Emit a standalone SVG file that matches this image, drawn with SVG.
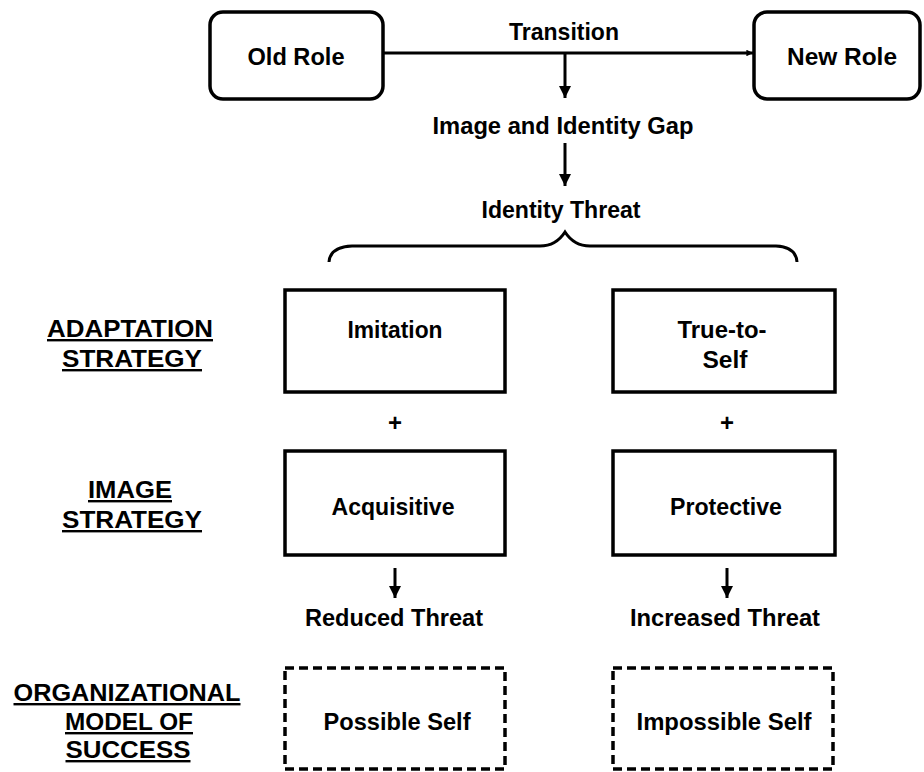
<svg xmlns="http://www.w3.org/2000/svg" width="924" height="772" viewBox="0 0 924 772">
<style>
text{font-family:"Liberation Sans",Arial,sans-serif;font-weight:bold;font-size:24px;fill:#000;text-anchor:middle}
.box{fill:#fff;stroke:#000;stroke-width:3.5}
.dash{fill:#fff;stroke:#000;stroke-width:3.5;stroke-dasharray:9 5}
.ln{fill:none;stroke:#000;stroke-width:3}
.ul{text-decoration:underline}
</style>
<defs>
<marker id="ah" viewBox="0 0 10 10" refX="10" refY="5" markerWidth="4" markerHeight="4" orient="auto" markerUnits="strokeWidth">
<path d="M0,0 L10,5 L0,10 Z" fill="#000"/>
</marker>
<marker id="ahs" viewBox="0 0 10 10" refX="10" refY="5" markerWidth="2.2" markerHeight="2.2" orient="auto" markerUnits="strokeWidth">
<path d="M0,0 L10,5 L0,10 Z" fill="#000"/>
</marker>
</defs>
<rect width="924" height="772" fill="#fff"/>
<g id="connectors">
<line class="ln" x1="383" y1="53" x2="753" y2="53" marker-end="url(#ahs)"/>
<line class="ln" x1="565" y1="53" x2="565" y2="98" marker-end="url(#ah)"/>
<line class="ln" x1="565" y1="143" x2="565" y2="186" marker-end="url(#ah)"/>
<path class="ln" d="M329,262 Q330,247 352,246 L540,246 Q556,246 565,232 Q574,246 590,246 L776,246 Q796,247 797,262"/>
<line class="ln" x1="395" y1="568" x2="395" y2="598" marker-end="url(#ah)"/>
<line class="ln" x1="727" y1="568" x2="727" y2="598" marker-end="url(#ah)"/>
</g>
<g id="old-role"><rect class="box" x="210" y="12" width="173" height="87" rx="13"/><text x="296" y="65" textLength="97" lengthAdjust="spacingAndGlyphs">Old Role</text></g>
<g id="new-role"><rect class="box" x="754" y="12" width="166" height="87" rx="13"/><text x="842" y="65" textLength="110" lengthAdjust="spacingAndGlyphs">New Role</text></g>
<g id="transition"><text x="564" y="40" textLength="110" lengthAdjust="spacingAndGlyphs">Transition</text></g>
<g id="gap"><text x="563" y="134" textLength="261" lengthAdjust="spacingAndGlyphs">Image and Identity Gap</text></g>
<g id="threat"><text x="561" y="218" textLength="159" lengthAdjust="spacingAndGlyphs">Identity Threat</text></g>
<g id="label-adaptation"><text class="ul" x="130" y="337" textLength="166" lengthAdjust="spacingAndGlyphs">ADAPTATION</text><text class="ul" x="132" y="367" textLength="140" lengthAdjust="spacingAndGlyphs">STRATEGY</text></g>
<g id="label-image"><text class="ul" x="130" y="498" textLength="84" lengthAdjust="spacingAndGlyphs">IMAGE</text><text class="ul" x="132" y="528" textLength="140" lengthAdjust="spacingAndGlyphs">STRATEGY</text></g>
<g id="label-org"><text class="ul" x="127" y="701" textLength="227" lengthAdjust="spacingAndGlyphs">ORGANIZATIONAL</text><text class="ul" x="129" y="730" textLength="128" lengthAdjust="spacingAndGlyphs">MODEL OF</text><text class="ul" x="128" y="758" textLength="125" lengthAdjust="spacingAndGlyphs">SUCCESS</text></g>
<g id="imitation"><rect class="box" x="285" y="290" width="220" height="102"/><text x="395" y="338" textLength="95" lengthAdjust="spacingAndGlyphs">Imitation</text></g>
<g id="true-to-self"><rect class="box" x="613" y="290" width="222" height="102"/><text x="722" y="338" textLength="89" lengthAdjust="spacingAndGlyphs">True-to-</text><text x="725" y="368" textLength="45" lengthAdjust="spacingAndGlyphs">Self</text></g>
<g id="plus-left"><text x="395" y="431">+</text></g>
<g id="plus-right"><text x="727" y="431">+</text></g>
<g id="acquisitive"><rect class="box" x="285" y="451" width="220" height="104"/><text x="393" y="515" textLength="123" lengthAdjust="spacingAndGlyphs">Acquisitive</text></g>
<g id="protective"><rect class="box" x="613" y="451" width="222" height="104"/><text x="726" y="515" textLength="112" lengthAdjust="spacingAndGlyphs">Protective</text></g>
<g id="reduced"><text x="394" y="626" textLength="178" lengthAdjust="spacingAndGlyphs">Reduced Threat</text></g>
<g id="increased"><text x="725" y="626" textLength="190" lengthAdjust="spacingAndGlyphs">Increased Threat</text></g>
<g id="possible-self"><rect class="dash" x="285" y="668" width="220" height="101"/><text x="397" y="730" textLength="147" lengthAdjust="spacingAndGlyphs">Possible Self</text></g>
<g id="impossible-self"><rect class="dash" x="613" y="668" width="220" height="101"/><text x="724" y="730" textLength="175" lengthAdjust="spacingAndGlyphs">Impossible Self</text></g>
</svg>
